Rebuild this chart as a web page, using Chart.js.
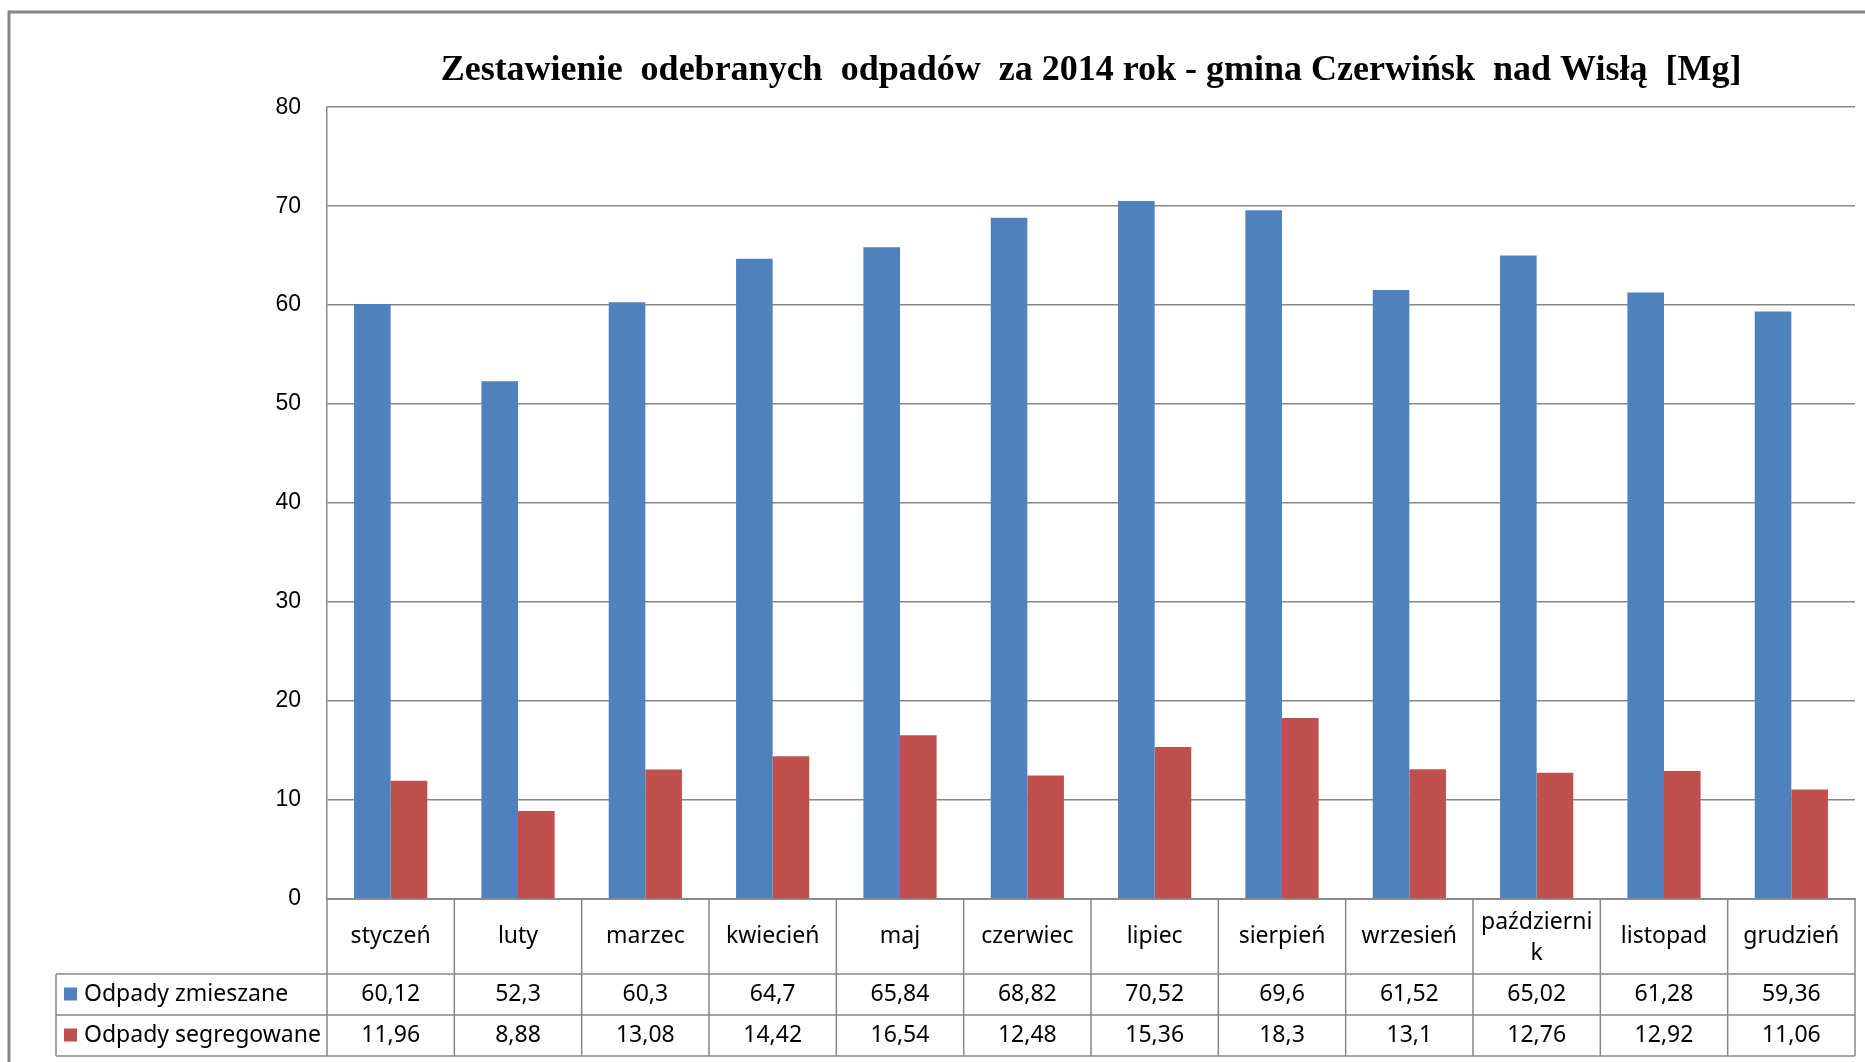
<!DOCTYPE html>
<html>
<head>
<meta charset="utf-8">
<script src="https://cdn.jsdelivr.net/npm/chart.js@4.4.1/dist/chart.umd.min.js"></script>
<style>
html, body { margin: 0; padding: 0; background: #fff; }
#wrap { width: 1865px; height: 1062px; position: relative; }
</style>
</head>
<body>
<div id="wrap"><canvas id="chart"></canvas></div>
<script>
const months = ["styczeń", "luty", "marzec", "kwiecień", "maj", "czerwiec", "lipiec", "sierpień", "wrzesień", "październik", "listopad", "grudzień"]
const mixedWaste = [60.12, 52.3, 60.3, 64.7, 65.84, 68.82, 70.52, 69.6, 61.52, 65.02, 61.28, 59.36]
const sortedWaste = [11.96, 8.88, 13.08, 14.42, 16.54, 12.48, 15.36, 18.3, 13.1, 12.76, 12.92, 11.06]
const seriesNames = ["Odpady zmieszane", "Odpady segregowane"]
const seriesColors = ["#4F81BD", "#C0504D"]
const yTicks = [0, 10, 20, 30, 40, 50, 60, 70, 80]
const chartTitle = "Zestawienie  odebranych  odpadów  za 2014 rok - gmina Czerwińsk  nad Wisłą  [Mg]"

const lineColor = "#878787"
const tableFont = "23px 'Noto Sans'"

function plNumber(v) {
    return String(v).replace(".", ",")
}

// wraps a label the way the spreadsheet did, letter by letter
function wrapLabel(ctx, text, maxWidth) {
    if (ctx.measureText(text).width <= maxWidth) return [text]
    let cut = text.length
    while (cut > 1 && ctx.measureText(text.slice(0, cut)).width > maxWidth) cut--
    return [text.slice(0, cut), text.slice(cut)]
}

// data table under the plot: months row + one row per series
const dataTable = {
    id: "dataTable",
    afterDraw(chart) {
        const ctx = chart.ctx
        const area = chart.chartArea
        const xScale = chart.scales.x
        const step = (area.right - area.left) / months.length
        const tableLeft = 56
        const rows = [area.bottom, area.bottom + 75, area.bottom + 116, area.bottom + 157]

        ctx.save()

        // outer frame of the chart
        ctx.strokeStyle = lineColor
        ctx.lineWidth = 3
        ctx.strokeRect(9, 12, 1900, 1100)

        ctx.lineWidth = 1.5
        ctx.beginPath()
        ctx.moveTo(area.left, rows[0])
        ctx.lineTo(area.right, rows[0])
        for (let r = 1; r < rows.length; r++) {
            ctx.moveTo(tableLeft, rows[r])
            ctx.lineTo(area.right, rows[r])
        }
        for (let i = 0; i <= months.length; i++) {
            const bx = area.left + i * step
            ctx.moveTo(bx, rows[0])
            ctx.lineTo(bx, rows[3])
        }
        ctx.moveTo(tableLeft, rows[1])
        ctx.lineTo(tableLeft, rows[3])
        ctx.stroke()

        ctx.fillStyle = "#000"
        ctx.font = tableFont
        ctx.textAlign = "center"
        ctx.textBaseline = "middle"

        months.forEach((m, i) => {
            const cx = xScale.getPixelForValue(i)
            const lines = wrapLabel(ctx, m, step - 12)
            if (lines.length == 1) {
                ctx.fillText(lines[0], cx, (rows[0] + rows[1]) / 2)
            } else {
                ctx.fillText(lines[0], cx, rows[0] + 23)
                ctx.fillText(lines[1], cx, rows[0] + 54)
            }
        })

        const seriesValues = [mixedWaste, sortedWaste]
        seriesValues.forEach((vals, s) => {
            const cy = (rows[s + 1] + rows[s + 2]) / 2
            vals.forEach((v, i) => {
                ctx.fillText(plNumber(v), xScale.getPixelForValue(i), cy)
            })
            ctx.fillStyle = seriesColors[s]
            ctx.fillRect(tableLeft + 8, cy - 7, 13, 13)
            ctx.fillStyle = "#000"
            ctx.textAlign = "left"
            ctx.fillText(seriesNames[s], tableLeft + 28, cy)
            ctx.textAlign = "center"
        })

        ctx.restore()
    }
}

const chartElement = document.getElementById("chart")
const chart = new Chart(chartElement, {
    type: "bar",
    data: {
        labels: months,
        datasets: [{
            label: seriesNames[0],
            data: mixedWaste,
            backgroundColor: seriesColors[0]
        }, {
            label: seriesNames[1],
            data: sortedWaste,
            backgroundColor: seriesColors[1]
        }]
    },
    options: {
        responsive: true,
        maintainAspectRatio: false,
        animation: false,
        layout: {
            padding: { left: 0, right: 10, top: 0, bottom: 155 }
        },
        datasets: {
            bar: {
                barPercentage: 1,
                categoryPercentage: 0.575
            }
        },
        plugins: {
            legend: { display: false },
            tooltip: { enabled: false },
            title: {
                display: true,
                text: chartTitle,
                fullSize: false,
                color: "#000",
                font: { family: "'Liberation Serif'", size: 36, weight: "bold" },
                padding: { top: 49, bottom: 15 }
            }
        },
        scales: {
            x: {
                ticks: { display: false },
                grid: { display: false },
                border: { display: true, color: lineColor, width: 1.5 }
            },
            y: {
                min: yTicks[0],
                max: yTicks[yTicks.length - 1],
                afterFit(scale) { scale.width = 327 },
                ticks: {
                    stepSize: yTicks[1] - yTicks[0],
                    padding: 26,
                    color: "#000",
                    font: { family: "'Liberation Sans'", size: 23 }
                },
                grid: { color: lineColor, lineWidth: 1.5, drawTicks: false },
                border: { display: true, color: lineColor, width: 1.5 }
            }
        }
    },
    plugins: [dataTable]
})
</script>
</body>
</html>
